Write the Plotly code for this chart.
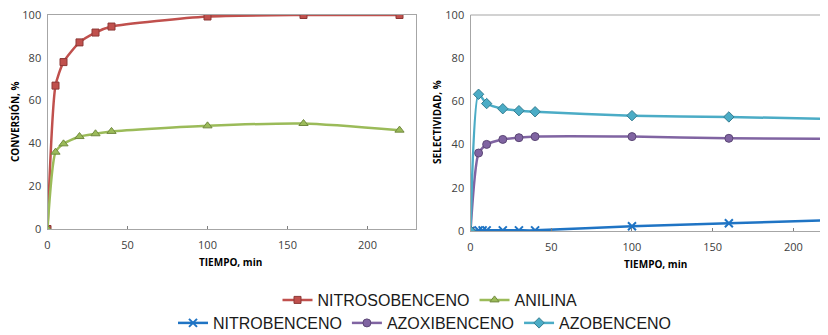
import plotly.graph_objects as go

# Data
t_conv = [0, 5, 10, 20, 30, 40, 100, 160, 220]
nitrosobenceno = [0, 67, 78, 87.2, 91.8, 94.6, 99.3, 100, 100]
anilina = [0, 35.9, 39.8, 43.2, 44.5, 45.6, 48.2, 49.3, 46.2]

t_sel = [0, 5, 10, 20, 30, 40, 100, 160, 220]
azobenceno = [0, 63.3, 59.0, 56.6, 55.7, 55.2, 53.4, 52.8, 51.9]
azoxibenceno = [0, 36.1, 40.1, 42.4, 43.2, 43.7, 43.7, 42.9, 42.7]
t_nitro = [0, 5, 7.5, 10, 20, 30, 40, 100, 160, 220]
nitrobenceno = [0, 0.3, 0.3, 0.3, 0.3, 0.3, 0.3, 2.2, 3.6, 4.9]

x_ticks = [0, 50, 100, 150, 200]
y_ticks = [0, 20, 40, 60, 80, 100]

RED, GREEN, BLUE, PURPLE, TEAL = "#C0504D", "#9BBB59", "#1F74C4", "#8064A2", "#4BACC6"
DARK = {"#C0504D": "#8C3836", "#9BBB59": "#71893F", "#1F74C4": "#1F74C4",
        "#8064A2": "#5C4776", "#4BACC6": "#357D91"}

fig = go.Figure()

def add(x, y, name, color, symbol, xa, ya, legend, size=7):
    fig.add_trace(go.Scatter(
        x=x, y=y, name=name, mode="lines+markers", xaxis=xa, yaxis=ya, legend=legend,
        line=dict(color=color, width=2.5, shape="spline", smoothing=0.6),
        marker=dict(symbol=symbol, size=size, color=color,
                    line=dict(color=DARK[color], width=1 if symbol != "x-thin" else 2)),
    ))

add(t_conv, nitrosobenceno, "NITROSOBENCENO", RED, "square", "x", "y", "legend")
add(t_conv, anilina, "ANILINA", GREEN, "triangle-up", "x", "y", "legend", 8)
add(t_nitro, nitrobenceno, "NITROBENCENO", BLUE, "x-thin", "x2", "y2", "legend2", 8)
add(t_sel, azoxibenceno, "AZOXIBENCENO", PURPLE, "circle", "x2", "y2", "legend2", 8)
add(t_sel, azobenceno, "AZOBENCENO", TEAL, "diamond", "x2", "y2", "legend2", 8)

W, H = 828, 335
OFF = 8  # page body margin offset


def px(x):
    return (x - OFF) / W


def py(y):
    return 1 - (y - OFF) / H


axis_font = dict(family="Open Sans, Liberation Sans, sans-serif", size=11, color="#404040")
line_col = "#A6A6A6"

common_x = dict(tickvals=x_ticks, ticks="inside", ticklen=3, tickcolor="#808080",
                showline=True, linecolor=line_col, linewidth=1.2, showgrid=False,
                zeroline=False, tickfont=axis_font, automargin=False, ticklabelstandoff=6,
                ticklabeloverflow="allow")
common_y = dict(tickvals=y_ticks, ticks="", showline=True, linecolor=line_col, linewidth=1.2,
                showgrid=False, zeroline=False, tickfont=axis_font, ticklabelstandoff=3,
                automargin=False, ticklabeloverflow="allow")

legend_font = dict(family="Liberation Sans, Arial, sans-serif", size=16, color="#1a1a1a")

fig.update_layout(
    width=W, height=H, margin=dict(l=0, r=0, t=0, b=0, autoexpand=False),
    paper_bgcolor="white", plot_bgcolor="white", showlegend=True,
    xaxis=dict(**common_x, anchor="y", domain=[px(47.5), px(415.5)], range=[0, 230], mirror=True),
    yaxis=dict(**common_y, anchor="x", domain=[py(229), py(15)], range=[0, 100], mirror=True),
    xaxis2=dict(**common_x, anchor="y2", domain=[px(470.5), px(828)], range=[0, 221.4], mirror=False),
    yaxis2=dict(**common_y, anchor="x2", domain=[py(231), py(15)], range=[0, 100]),
    legend=dict(orientation="h", x=px(430), xanchor="center", y=py(300), yanchor="middle",
                font=legend_font, itemwidth=30, tracegroupgap=0, bgcolor="rgba(0,0,0,0)"),
    legend2=dict(orientation="h", x=px(425), xanchor="center", y=py(323), yanchor="middle",
                 font=legend_font, itemwidth=30, tracegroupgap=0, bgcolor="rgba(0,0,0,0)"),
)

# top border on right plot (box is cropped at the right edge)
fig.add_shape(type="line", xref="x2 domain", yref="y2 domain", x0=0, x1=1, y0=1, y1=1,
              line=dict(color=line_col, width=1.2))

title_font = dict(family="Open Sans, Liberation Sans, sans-serif", size=10, color="#000000")
ann = dict(xref="paper", yref="paper", showarrow=False, font=title_font,
           xanchor="center", yanchor="middle")
fig.add_annotation(text="<b>CONVERSIÓN, %</b>", x=px(15), y=py(122), textangle=-90, **ann)
fig.add_annotation(text="<b>SELECTIVIDAD, %</b>", x=px(437), y=py(122), textangle=-90, **ann)
fig.add_annotation(text="<b>TIEMPO, min</b>", x=px(231), y=py(262), **ann)
fig.add_annotation(text="<b>TIEMPO, min</b>", x=px(655), y=py(264), **ann)

fig.write_html("out.html")
